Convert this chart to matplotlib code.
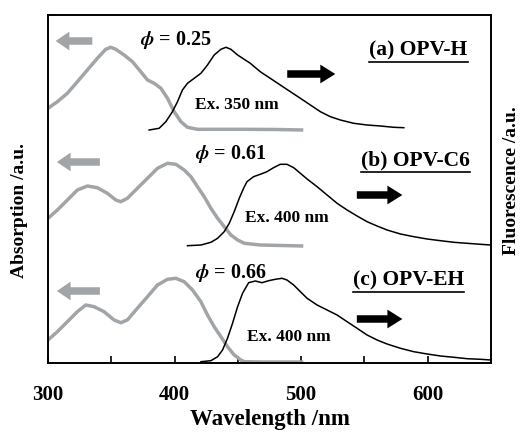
import numpy as np
import matplotlib
matplotlib.use("Agg")
from matplotlib import pyplot as plt

plt.rcParams['font.family'] = 'Liberation Serif'
plt.rcParams['font.weight'] = 'bold'
plt.rcParams['mathtext.fontset'] = 'stix'

## absorption (grey) and fluorescence (black), panels stacked with offsets (a.u.)
abs_a_x = [300, 307.4, 315.3, 323.2, 331.1, 339, 345.6, 349.6, 353.6, 360.1, 366.7, 373.3, 378.6,
           383.9, 389.2, 394.4, 399.7, 405, 410.2, 418.1, 455, 480, 501.7]
abs_a_y = [2.547, 2.613, 2.697, 2.813, 2.93, 3.047, 3.137, 3.157, 3.137, 3.08, 3.013, 2.913, 2.83,
           2.797, 2.747, 2.647, 2.513, 2.413, 2.357, 2.337, 2.337, 2.335, 2.33]
fl_a_x = [379.9, 387.8, 393.1, 398.3, 402.3, 406.2, 410.2, 415.5, 420.8, 426, 431.3, 436.6, 440.6,
          444.5, 449.8, 459.8, 467.7, 475.6, 483.5, 491.5, 499.4, 507.3, 515.2, 523.1, 531, 541.5,
          552.1, 562.7, 573.2, 581.1]
fl_a_y = [2.33, 2.347, 2.413, 2.513, 2.613, 2.73, 2.797, 2.847, 2.897, 2.98, 3.08, 3.137, 3.157,
          3.137, 3.08, 2.997, 2.913, 2.847, 2.78, 2.713, 2.647, 2.58, 2.513, 2.463, 2.43, 2.397,
          2.38, 2.37, 2.357, 2.353]

abs_b_x = [300, 307.4, 315.3, 323.2, 331.1, 339, 346.9, 353.6, 357.5, 362.7, 370.6, 378.6, 386.5,
           394.4, 401, 407.6, 412.9, 418.1, 423.4, 428.7, 434, 439.2, 444.5, 449.8, 455.1, 467.7, 501.7]
abs_b_y = [1.447, 1.53, 1.63, 1.73, 1.77, 1.753, 1.697, 1.63, 1.613, 1.647, 1.747, 1.847, 1.947,
           1.997, 1.987, 1.93, 1.863, 1.763, 1.663, 1.547, 1.447, 1.363, 1.28, 1.23, 1.197, 1.18, 1.17]
fl_b_x = [410.2, 420.8, 428.7, 434, 439.2, 443.2, 447.1, 451.1, 454.5, 457.2, 462.4, 467.7, 473,
          478.2, 483.5, 488.8, 494.1, 499.4, 504.7, 512.6, 520.5, 528.4, 536.3, 544.2, 552.1, 560,
          567.9, 578.5, 589, 599.6, 610.1, 620.7, 631.2, 641.8, 650]
fl_b_y = [1.173, 1.18, 1.207, 1.247, 1.313, 1.397, 1.513, 1.647, 1.747, 1.813, 1.863, 1.887, 1.913,
          1.953, 1.987, 1.987, 1.953, 1.897, 1.84, 1.763, 1.68, 1.597, 1.53, 1.47, 1.413, 1.37,
          1.33, 1.29, 1.263, 1.24, 1.223, 1.207, 1.197, 1.187, 1.18]

abs_c_x = [300, 307.4, 315.3, 323.2, 329.8, 336.4, 344.3, 352.2, 357.5, 362.7, 370.6, 378.6, 386.5,
           394.4, 401, 407.6, 414.2, 420.8, 426, 431.3, 436.6, 441.8, 447.1, 452.4, 455.1, 470, 501.7]
abs_c_y = [0.23, 0.313, 0.413, 0.513, 0.58, 0.563, 0.513, 0.43, 0.403, 0.43, 0.547, 0.663, 0.78,
           0.837, 0.847, 0.813, 0.73, 0.613, 0.48, 0.363, 0.263, 0.163, 0.08, 0.03, 0.013, 0.01, 0.01]
fl_c_x = [420.8, 428.7, 434, 437.9, 441.8, 445.8, 449.8, 453.7, 458.5, 463.8, 469.1, 474.3, 479.6,
          484.9, 488.8, 494.1, 499.4, 504.7, 512.6, 520.5, 528.4, 536.3, 544.2, 552.1, 560, 567.9,
          578.5, 589, 599.6, 610.1, 620.7, 631.2, 641.8, 650]
fl_c_y = [0.013, 0.023, 0.063, 0.13, 0.247, 0.397, 0.563, 0.697, 0.803, 0.82, 0.803, 0.823, 0.837,
          0.847, 0.83, 0.78, 0.713, 0.647, 0.58, 0.53, 0.48, 0.413, 0.347, 0.28, 0.23, 0.19,
          0.147, 0.113, 0.09, 0.07, 0.057, 0.043, 0.037, 0.03]

names = ['(a) OPV-H', '(b) OPV-C6', '(c) OPV-EH']
phis = ['0.25', '0.61', '0.66']
excit = ['Ex. 350 nm', 'Ex. 400 nm', 'Ex. 400 nm']

grey = '#a2a5a8'

fig = plt.figure(figsize=(5.25, 4.33), dpi=100)
ax = fig.add_axes([48/525, 1-363/433, 443/525, 348/433])

for x, y in [(abs_a_x, abs_a_y), (abs_b_x, abs_b_y), (abs_c_x, abs_c_y)]:
    ax.plot(x, y, color=grey, lw=2.5, solid_capstyle='butt', solid_joinstyle='round')
for x, y in [(fl_a_x, fl_a_y), (fl_b_x, fl_b_y), (fl_c_x, fl_c_y)]:
    ax.plot(x, y, color='black', lw=1.1, solid_joinstyle='round')

ax.set_xlim(300, 650)
ax.set_ylim(0, 3.48)
ax.set_yticks([])
ax.set_xticks([300, 400, 500, 600])
ax.set_xticks([350, 450, 550], minor=True)
ax.tick_params(axis='x', which='both', direction='in', length=5, width=1.2, labelsize=15, pad=16)
for s in ax.spines.values():
    s.set_linewidth(1.4)
ax.set_xlabel('Wavelength /nm', fontsize=16.5, fontweight='bold', labelpad=3)

fig.text(20/525, 1-210/433, 'Absorption /a.u.', rotation=90, ha='center', va='center',
         fontsize=14, fontweight='bold')
fig.text(511/525, 1-181/433, 'Fluorescence /a.u.', rotation=90, ha='center', va='center',
         fontsize=14, fontweight='bold')

# annotation positions (x in nm, y in a.u.)
phi_pos = [(373, 3.23), (416, 2.09), (416, 0.90)]
name_pos = [(554, 3.13), (547, 2.03), (541, 0.83)]
ex_pos = [(416, 2.58), (456, 1.45), (457, 0.26)]
grey_arr = [(335, 306, 3.22), (341, 307, 2.01), (341, 307, 0.72)]
black_arr = [(489, 527, 2.89), (544, 580, 1.68), (544, 580, 0.44)]

name_texts = []
for i in range(3):
    ax.text(phi_pos[i][0], phi_pos[i][1], r'$\phi$' + ' = ' + phis[i], fontsize=14.5,
            fontweight='bold', va='center')
    t = ax.text(name_pos[i][0], name_pos[i][1], names[i], fontsize=15.5, fontweight='bold', va='center')
    name_texts.append(t)
    ax.text(ex_pos[i][0], ex_pos[i][1], excit[i], fontsize=12.5, fontweight='bold', va='center')
    x0, x1, y = grey_arr[i]
    ax.annotate('', xy=(x1, y), xytext=(x0, y),
                arrowprops=dict(arrowstyle='simple,head_length=0.55,head_width=0.75,tail_width=0.3',
                                color=grey, lw=0, mutation_scale=18, shrinkA=0, shrinkB=0))
    x0, x1, y = black_arr[i]
    ax.annotate('', xy=(x1, y), xytext=(x0, y),
                arrowprops=dict(arrowstyle='simple,head_length=0.6,head_width=0.75,tail_width=0.3',
                                color='black', lw=0, mutation_scale=18, shrinkA=0, shrinkB=0))

# underline the sample names
fig.canvas.draw()
inv = ax.transData.inverted()
for t in name_texts:
    bb = t.get_window_extent()
    (xa, ya), (xb, yb) = inv.transform([[bb.x0, bb.y0], [bb.x1, bb.y1]])
    ax.plot([xa, xb], [ya - 0.02, ya - 0.02], color='black', lw=1.2)

fig.savefig('out.png', dpi=100)
